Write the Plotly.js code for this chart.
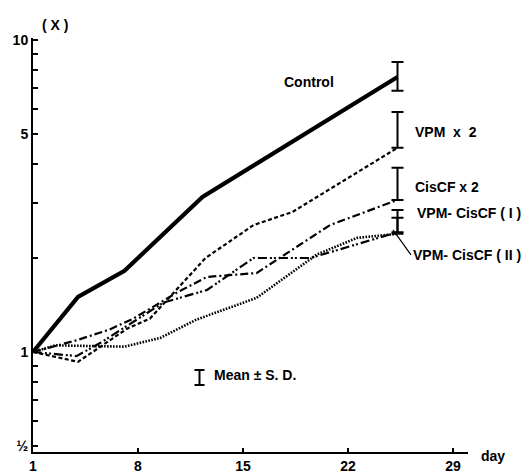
<!DOCTYPE html>
<html>
<head>
<meta charset="utf-8">
<script src="https://cdn.plot.ly/plotly-3.0.1.min.js"></script>
<style>html,body{margin:0;padding:0;background:#fff;}#chart{width:526px;height:476px;}</style>
</head>
<body>
<div id="chart"></div>
<script>
// ---- data ----
const seriesNames = ['Control', 'VPM x 2', 'CisCF x 2', 'VPM- CisCF ( I )', 'VPM- CisCF ( II )'];

const controlDays = [1, 4, 7.1, 12.3, 25.3];
const controlVals = [1, 1.50, 1.82, 3.14, 7.6];

const vpmDays = [1, 4, 7.3, 8.8, 12.5, 15.7, 18.3, 25.3];
const vpmVals = [1, 0.93, 1.19, 1.28, 2.0, 2.55, 2.81, 4.51];

const cisDays = [1, 3.9, 6.1, 7.7, 10.6, 12.6, 15.9, 20.8, 25.3];
const cisVals = [1, 1.09, 1.18, 1.28, 1.55, 1.74, 1.79, 2.55, 3.07];

const combo1Days = [1, 3.9, 5.5, 9.7, 12.6, 14.1, 15.7, 19.5, 25.3];
const combo1Vals = [1, 0.97, 1.07, 1.44, 1.58, 1.77, 2.0, 2.0, 2.42];

const combo2Days = [1, 2.5, 7.1, 9.5, 11.9, 15.9, 19.9, 22.6, 25.3];
const combo2Vals = [1, 1.05, 1.04, 1.11, 1.27, 1.49, 2.05, 2.32, 2.39];

// S.D. at the last day, in series order
const sdUp   = [0.9, 1.36, 0.82, 0.43, 0.30];
const sdDown = [0.73, 0, 0, 0, 0];

// "Mean ± S.D." key
const keyDay = [12.1];
const keyVal = [0.832];
const keyUp = [0.044];
const keyDown = [0.048];

const xTickVals = [1, 8, 15, 22, 29];
const yTickVals = [0.5, 0.6, 0.7, 0.8, 0.9, 1, 2, 3, 4, 5, 6, 7, 8, 9, 10];
const yTickText = ['½', '', '', '', '', '1', '', '', '', '5', '', '', '', '', '10'];

// ---- styles ----
const FONT = 'Liberation Sans Narrow, Liberation Sans, Arial, sans-serif';
const styles = [
  {width: 4.2, dash: 'solid'},
  {width: 2.2, dash: '4px,2.5px'},
  {width: 2.2, dash: '8px,3px,2px,3px'},
  {width: 2.2, dash: '9px,3px,2px,2px,2px,3px'},
  {width: 2.6, dash: '1.6px,1.4px'}
];
const allDays = [controlDays, vpmDays, cisDays, combo1Days, combo2Days];
const allVals = [controlVals, vpmVals, cisVals, combo1Vals, combo2Vals];

const traces = [];
allDays.forEach((d, i) => {
  traces.push({
    type: 'scatter', mode: 'lines', x: d, y: allVals[i], name: seriesNames[i],
    line: {color: '#000', width: styles[i].width, dash: styles[i].dash},
    showlegend: false, hoverinfo: 'skip'
  });
});
allDays.forEach((d, i) => {
  const n = d.length - 1;
  traces.push({
    type: 'scatter', mode: 'lines', x: [d[n]], y: [allVals[i][n]],
    error_y: {type: 'data', symmetric: false, array: [sdUp[i]], arrayminus: [sdDown[i]],
              color: '#000', thickness: 2, width: 6},
    showlegend: false, hoverinfo: 'skip'
  });
});
traces.push({
  type: 'scatter', mode: 'lines', x: keyDay, y: keyVal,
  error_y: {type: 'data', symmetric: false, array: keyUp, arrayminus: keyDown,
            color: '#000', thickness: 2, width: 5},
  showlegend: false, hoverinfo: 'skip'
});

const lab = (text, x, logy, extra) => Object.assign({
  text: text, x: x, y: logy, xref: 'x', yref: 'y', showarrow: false,
  xanchor: 'left', yanchor: 'middle',
  font: {family: FONT, size: 14, color: '#000', weight: 'bold'}
}, extra || {});

const layout = {
  width: 526, height: 476,
  margin: {l: 33, r: 58, t: 38, b: 24, pad: 0},
  paper_bgcolor: '#fff', plot_bgcolor: '#fff',
  font: {family: FONT, color: '#000'},
  xaxis: {
    range: [1, 30], tickvals: xTickVals, ticks: 'inside', ticklen: 4, tickwidth: 2,
    tickcolor: '#000', showline: true, linewidth: 2, linecolor: '#000',
    showgrid: false, zeroline: false,
    tickfont: {family: FONT, size: 14, color: '#000', weight: 'bold'}
  },
  yaxis: {
    type: 'log', range: [-0.3205, 1.006], tickvals: yTickVals, ticktext: yTickText,
    ticks: 'inside', ticklen: 5, tickwidth: 2, tickcolor: '#000',
    showline: true, linewidth: 2, linecolor: '#000', showgrid: false, zeroline: false,
    tickfont: {family: FONT, size: 14, color: '#000', weight: 'bold'}
  },
  annotations: [
    lab('Control', 19.4, 0.865, {xanchor: 'center'}),
    lab('VPM  x  2', 26.35, 0.705),
    lab('CisCF x 2', 26.35, 0.529),
    lab('VPM- CisCF ( I )', 26.45, 0.4455),
    lab('VPM- CisCF ( II )', 25.0, Math.log10(2.46), {
      showarrow: true, ax: 18, ay: 25, arrowhead: 0, arrowwidth: 1.2,
      arrowcolor: '#000', standoff: 0, xanchor: 'left'
    }),
    lab('Mean ± S. D.', 12.9, -0.074),
    {text: '( X )', xref: 'paper', yref: 'paper', x: 0.016, y: 1.056, showarrow: false,
     font: {family: FONT, size: 14, color: '#000', weight: 'bold'}},
    {text: 'day', xref: 'paper', yref: 'paper', x: 1.09, y: -0.034, showarrow: false,
     font: {family: FONT, size: 14, color: '#000', weight: 'bold'}}
  ]
};

Plotly.newPlot('chart', traces, layout, {staticPlot: true, displayModeBar: false});
</script>
</body>
</html>
